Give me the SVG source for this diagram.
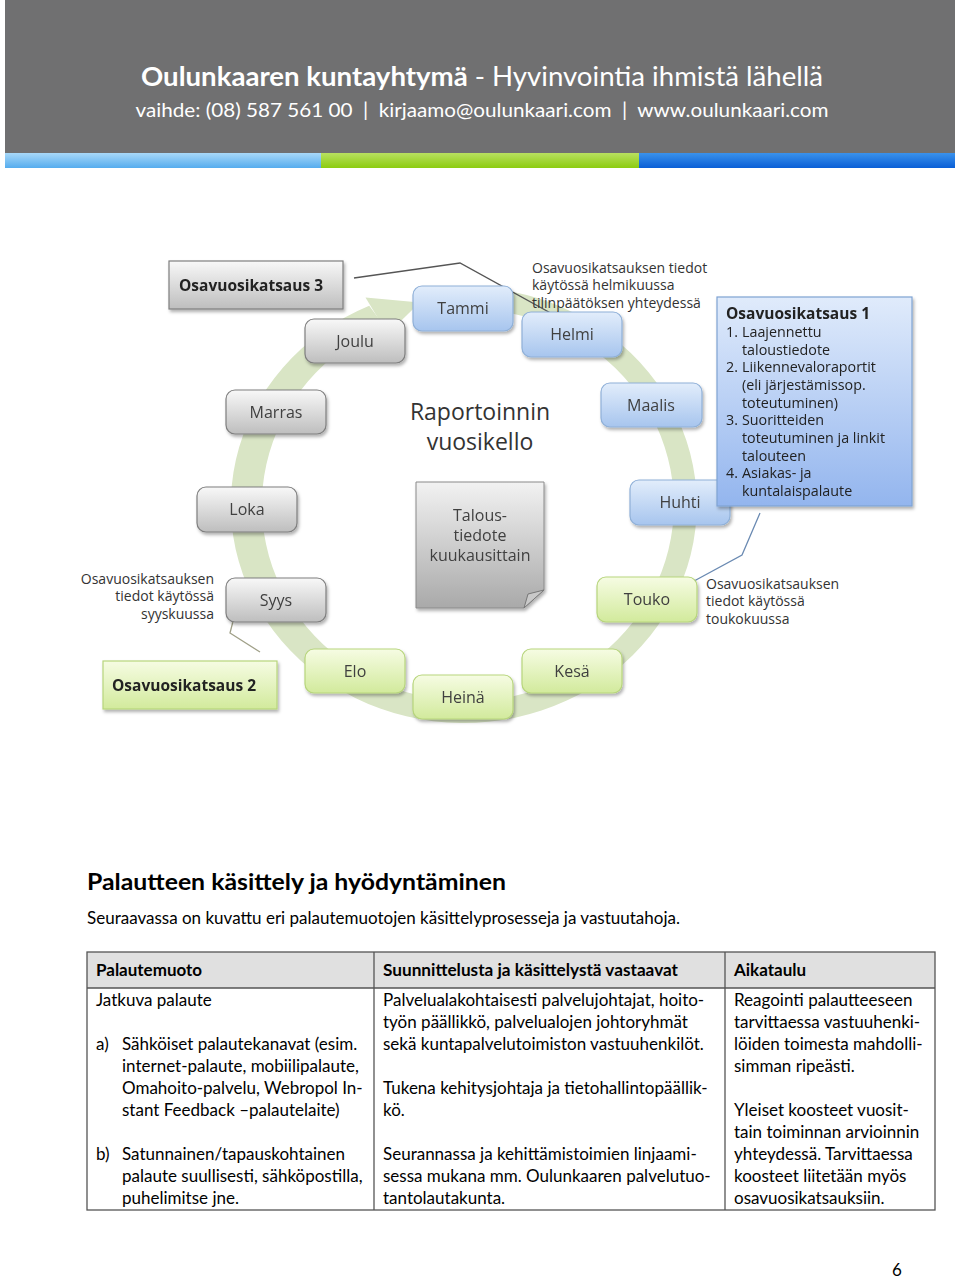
<svg xmlns="http://www.w3.org/2000/svg" width="960" height="1278" viewBox="0 0 960 1278">
<defs>
<linearGradient id="gBlue" x1="0" y1="0" x2="0" y2="1"><stop offset="0" stop-color="#e2edfb"/><stop offset="1" stop-color="#a7c5ee"/></linearGradient>
<linearGradient id="gGreen" x1="0" y1="0" x2="0" y2="1"><stop offset="0" stop-color="#f6fce3"/><stop offset="1" stop-color="#d2ea9c"/></linearGradient>
<linearGradient id="gGray" x1="0" y1="0" x2="0" y2="1"><stop offset="0" stop-color="#f8f8f8"/><stop offset="1" stop-color="#bebebe"/></linearGradient>
<linearGradient id="gNote" x1="0" y1="0" x2="0" y2="1"><stop offset="0" stop-color="#f2f2f2"/><stop offset="1" stop-color="#a9a9a9"/></linearGradient>
<linearGradient id="gO1" x1="0" y1="0" x2="0" y2="1"><stop offset="0" stop-color="#e0ebfb"/><stop offset="1" stop-color="#93b5ee"/></linearGradient>
<linearGradient id="gBar1" x1="0" y1="0" x2="0" y2="1"><stop offset="0" stop-color="#a8d8f8"/><stop offset="1" stop-color="#55acee"/></linearGradient>
<linearGradient id="gBar2" x1="0" y1="0" x2="0" y2="1"><stop offset="0" stop-color="#b8e060"/><stop offset="1" stop-color="#8ccc10"/></linearGradient>
<linearGradient id="gBar3" x1="0" y1="0" x2="0" y2="1"><stop offset="0" stop-color="#3a92ec"/><stop offset="1" stop-color="#0a5fd6"/></linearGradient>
<filter id="sh" x="-10%" y="-10%" width="130%" height="140%"><feDropShadow dx="1.5" dy="2.5" stdDeviation="1.8" flood-color="#000" flood-opacity="0.3"/></filter>
<style>
.m{font-family:"Open Sans","Noto Sans",sans-serif;font-size:16px;fill:#3f3f3f;text-anchor:middle}
.big{font-family:"Open Sans","Noto Sans",sans-serif;font-size:23px;fill:#333;text-anchor:middle}
.nt{font-family:"Open Sans","Noto Sans",sans-serif;font-size:16px;fill:#3f3f3f;text-anchor:middle}
.bb{fill:url(#gBlue);stroke:#8fb0d8;stroke-width:1.2}
.bg{fill:url(#gGreen);stroke:#b7d57c;stroke-width:1.2}
.by{fill:url(#gGray);stroke:#7f7f7f;stroke-width:1.2}
.note{font-family:"Open Sans","Noto Sans",sans-serif;font-size:14px;fill:#333}
.ob{font-family:"Open Sans","Noto Sans",sans-serif;font-size:15.5px;font-weight:bold;fill:#222}
.ol{font-family:"Open Sans","Noto Sans",sans-serif;font-size:14.3px;fill:#222}
.t{font-family:Lato,"Liberation Sans",sans-serif;font-size:17px;fill:#000}
.th{font-family:Lato,"Liberation Sans",sans-serif;font-size:17px;font-weight:bold;fill:#000}
</style>
</defs>
<rect x="0" y="0" width="960" height="1278" fill="#fff"/>

<g id="header">
<rect x="5" y="0" width="950" height="153" fill="#707071"/>
<rect x="5" y="153" width="316" height="15" fill="url(#gBar1)"/>
<rect x="321" y="153" width="318" height="15" fill="url(#gBar2)"/>
<rect x="639" y="153" width="316" height="15" fill="url(#gBar3)"/>
<text x="482" y="86" text-anchor="middle" font-family="Lato,'Liberation Sans',sans-serif" font-size="26" fill="#fff" textLength="682" lengthAdjust="spacingAndGlyphs"><tspan font-weight="bold">Oulunkaaren kuntayhtymä</tspan> - Hyvinvointia ihmistä lähellä</text>
<text x="482" y="117" text-anchor="middle" font-family="Lato,'Liberation Sans',sans-serif" font-size="19" fill="#fff" textLength="693" lengthAdjust="spacingAndGlyphs" xml:space="preserve">vaihde: (08) 587 561 00  |  kirjaamo@oulunkaari.com  |  www.oulunkaari.com</text>
</g>

<g id="ring" fill="#d9e5c5">
<path d="M512.4,291.8 A233,218 0 1 1 369.2,305.8 L384.2,325.9 A206,196 0 1 0 510.8,313.3 Z"/>
<polygon points="365.5,297.6 419.8,302.5 387.5,334.1"/>
</g>

<g id="connectors" fill="none" stroke-width="1.3">
<polyline points="354,278 460,263 556,316" stroke="#555"/>
<polyline points="760,513 742,555 683,587" stroke="#6a8ab2"/>
<polyline points="238,602 230,633 260,652" stroke="#a0a088"/>
</g>

<g id="title-center">
<text x="480" y="420" class="big">Raportoinnin</text>
<text x="480" y="450" class="big">vuosikello</text>
</g>

<g id="talous" filter="url(#sh)">
<path d="M416,482 H544 V590 L524,608 H416 Z" fill="url(#gNote)" stroke="#8a8a8a" stroke-width="1"/>
<path d="M544,590 L528,594 L524,608 Z" fill="#c9c9c9" stroke="#777" stroke-width="1"/>
<text x="480" y="521" class="nt">Talous-</text>
<text x="480" y="541" class="nt">tiedote</text>
<text x="480" y="561" class="nt">kuukausittain</text>
</g>

<g id="tammi" filter="url(#sh)"><rect x="413" y="286" width="100" height="45" rx="9" class="bb"/><text x="463" y="314" class="m">Tammi</text></g>
<g id="helmi" filter="url(#sh)"><rect x="522" y="312" width="100" height="45" rx="9" class="bb"/><text x="572" y="340" class="m">Helmi</text></g>
<g id="maalis" filter="url(#sh)"><rect x="601" y="383" width="101" height="44" rx="9" class="bb"/><text x="651" y="411" class="m">Maalis</text></g>
<g id="huhti" filter="url(#sh)"><rect x="630" y="480" width="100" height="45" rx="9" class="bb"/><text x="680" y="508" class="m">Huhti</text></g>
<g id="touko" filter="url(#sh)"><rect x="597" y="577" width="100" height="45" rx="9" class="bg"/><text x="647" y="605" class="m">Touko</text></g>
<g id="kesa" filter="url(#sh)"><rect x="522" y="649" width="100" height="44" rx="9" class="bg"/><text x="572" y="677" class="m">Kesä</text></g>
<g id="heina" filter="url(#sh)"><rect x="413" y="675" width="100" height="44" rx="9" class="bg"/><text x="463" y="703" class="m">Heinä</text></g>
<g id="elo" filter="url(#sh)"><rect x="305" y="649" width="100" height="44" rx="9" class="bg"/><text x="355" y="677" class="m">Elo</text></g>
<g id="syys" filter="url(#sh)"><rect x="226" y="578" width="100" height="44" rx="9" class="by"/><text x="276" y="606" class="m">Syys</text></g>
<g id="loka" filter="url(#sh)"><rect x="197" y="487" width="100" height="45" rx="9" class="by"/><text x="247" y="515" class="m">Loka</text></g>
<g id="marras" filter="url(#sh)"><rect x="226" y="390" width="100" height="44" rx="9" class="by"/><text x="276" y="418" class="m">Marras</text></g>
<g id="joulu" filter="url(#sh)"><rect x="305" y="319" width="100" height="44" rx="9" class="by"/><text x="355" y="347" class="m">Joulu</text></g>

<g id="osav3" filter="url(#sh)"><rect x="169" y="261" width="174" height="48" class="by"/><text x="179" y="291" class="ob">Osavuosikatsaus 3</text></g>
<g id="osav2" filter="url(#sh)"><rect x="103" y="661" width="174" height="48" class="bg"/><text x="112" y="691" class="ob">Osavuosikatsaus 2</text></g>
<g id="osav1" filter="url(#sh)">
<rect x="717" y="297" width="195" height="209" fill="url(#gO1)" stroke="#7fa3d3" stroke-width="1.2"/>
<text x="726" y="319" class="ob">Osavuosikatsaus 1</text>
<text class="ol">
<tspan x="726" y="337">1.</tspan><tspan x="742" y="337">Laajennettu</tspan>
<tspan x="742" y="355">taloustiedote</tspan>
<tspan x="726" y="372">2.</tspan><tspan x="742" y="372">Liikennevaloraportit</tspan>
<tspan x="742" y="390">(eli järjestämissop.</tspan>
<tspan x="742" y="408">toteutuminen)</tspan>
<tspan x="726" y="425">3.</tspan><tspan x="742" y="425">Suoritteiden</tspan>
<tspan x="742" y="443">toteutuminen ja linkit</tspan>
<tspan x="742" y="461">talouteen</tspan>
<tspan x="726" y="478">4.</tspan><tspan x="742" y="478">Asiakas- ja</tspan>
<tspan x="742" y="496">kuntalaispalaute</tspan>
</text>
</g>

<g id="note-helmi">
<text x="532" y="273" class="note">Osavuosikatsauksen tiedot</text>
<text x="532" y="290" class="note">käytössä helmikuussa</text>
<text x="532" y="308" class="note">tilinpäätöksen yhteydessä</text>
</g>
<g id="note-touko">
<text x="706" y="589" class="note">Osavuosikatsauksen</text>
<text x="706" y="606" class="note">tiedot käytössä</text>
<text x="706" y="624" class="note">toukokuussa</text>
</g>
<g id="note-syys">
<text x="214" y="584" class="note" text-anchor="end">Osavuosikatsauksen</text>
<text x="214" y="601" class="note" text-anchor="end">tiedot käytössä</text>
<text x="214" y="619" class="note" text-anchor="end">syyskuussa</text>
</g>

<g id="section">
<text x="87" y="890" font-family="Lato,'Liberation Sans',sans-serif" font-size="23" font-weight="bold" fill="#000" textLength="419" lengthAdjust="spacingAndGlyphs">Palautteen käsittely ja hyödyntäminen</text>
<text x="87" y="924" class="t" textLength="593" lengthAdjust="spacingAndGlyphs">Seuraavassa on kuvattu eri palautemuotojen käsittelyprosesseja ja vastuutahoja.</text>
</g>

<g id="table">
<rect x="87" y="952" width="848" height="36" fill="#e0e0e0"/>
<rect x="87" y="952" width="848" height="258" fill="none" stroke="#555" stroke-width="1.3"/>
<line x1="87" y1="988" x2="935" y2="988" stroke="#555" stroke-width="1.3"/>
<line x1="374" y1="952" x2="374" y2="1210" stroke="#555" stroke-width="1.3"/>
<line x1="725" y1="952" x2="725" y2="1210" stroke="#555" stroke-width="1.3"/>
<text x="96" y="976" class="th">Palautemuoto</text>
<text x="383" y="976" class="th" textLength="295" lengthAdjust="spacingAndGlyphs">Suunnittelusta ja käsittelystä vastaavat</text>
<text x="734" y="976" class="th">Aikataulu</text>

<text class="t">
<tspan x="96" y="1006">Jatkuva palaute</tspan>
<tspan x="96" y="1050">a)</tspan><tspan x="122" y="1050">Sähköiset palautekanavat (esim.</tspan>
<tspan x="122" y="1072">internet-palaute, mobiilipalaute,</tspan>
<tspan x="122" y="1094">Omahoito-palvelu, Webropol In-</tspan>
<tspan x="122" y="1116">stant Feedback –palautelaite)</tspan>
<tspan x="96" y="1160">b)</tspan><tspan x="122" y="1160">Satunnainen/tapauskohtainen</tspan>
<tspan x="122" y="1182">palaute suullisesti, sähköpostilla,</tspan>
<tspan x="122" y="1204">puhelimitse jne.</tspan>
</text>
<text class="t">
<tspan x="383" y="1006">Palvelualakohtaisesti palvelujohtajat, hoito-</tspan>
<tspan x="383" y="1028">työn päällikkö, palvelualojen johtoryhmät</tspan>
<tspan x="383" y="1050">sekä kuntapalvelutoimiston vastuuhenkilöt.</tspan>
<tspan x="383" y="1094">Tukena kehitysjohtaja ja tietohallintopäällik-</tspan>
<tspan x="383" y="1116">kö.</tspan>
<tspan x="383" y="1160">Seurannassa ja kehittämistoimien linjaami-</tspan>
<tspan x="383" y="1182">sessa mukana mm. Oulunkaaren palvelutuo-</tspan>
<tspan x="383" y="1204">tantolautakunta.</tspan>
</text>
<text class="t">
<tspan x="734" y="1006">Reagointi palautteeseen</tspan>
<tspan x="734" y="1028">tarvittaessa vastuuhenki-</tspan>
<tspan x="734" y="1050">löiden toimesta mahdolli-</tspan>
<tspan x="734" y="1072">simman ripeästi.</tspan>
<tspan x="734" y="1116">Yleiset koosteet vuosit-</tspan>
<tspan x="734" y="1138">tain toiminnan arvioinnin</tspan>
<tspan x="734" y="1160">yhteydessä. Tarvittaessa</tspan>
<tspan x="734" y="1182">koosteet liitetään myös</tspan>
<tspan x="734" y="1204">osavuosikatsauksiin.</tspan>
</text>
</g>

<text x="897" y="1276" class="t" text-anchor="middle">6</text>
</svg>
